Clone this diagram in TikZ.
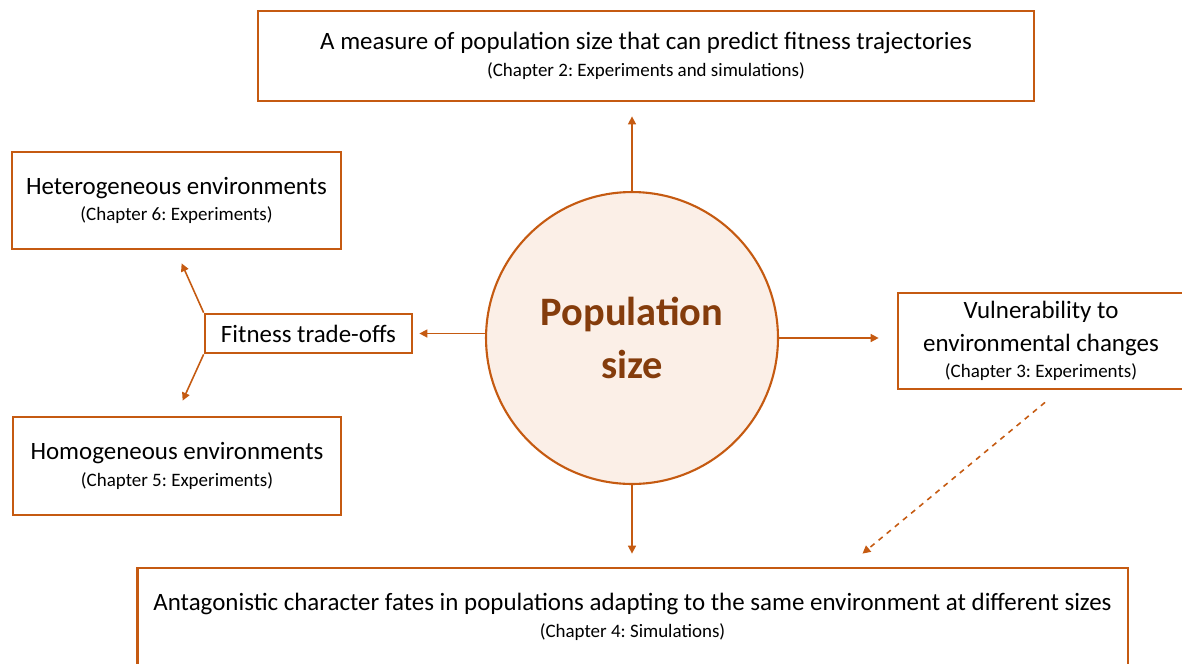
\documentclass[tikz,border=0pt]{standalone}
\usepackage{fontspec}
\setmainfont{Carlito}
\usetikzlibrary{arrows.meta,positioning,calc}
\definecolor{rustorange}{RGB}{197,90,17}
\definecolor{deepbrown}{RGB}{132,60,12}
\definecolor{paleapricot}{RGB}{251,239,231}

% smaller second line naming the chapter
\newcommand{\chapline}[1]{{\fontsize{10.8}{12}\selectfont #1}}

\begin{document}
\frenchspacing
\begin{tikzpicture}[x=0.02cm,y=-0.02cm,
    box/.style={draw=rustorange,line width=1.6pt,fill=white,align=center,inner sep=0pt,
      font=\fontsize{14.2}{18.5}\selectfont},
    link/.style={draw=rustorange,line width=0.9pt,-{Triangle[length=4.5pt,width=4.5pt]}}]
    \useasboundingbox (0,0) rectangle (1182,663);
    \clip (0,0) rectangle (1182,663);

    \node[circle,draw=rustorange,line width=1.2pt,fill=paleapricot,minimum size=5.84cm,
      text=deepbrown,align=center,font=\bfseries\fontsize{23}{30}\selectfont] (size) at (632,338) {Population\\size};

    \node[box,minimum width=15.52cm,minimum height=1.8cm] (chtwo) at (646,56)
      {A measure of population size that can predict fitness trajectories\\[-3.5pt]\chapline{(Chapter 2: Experiments and simulations)}};
    \node[box,minimum width=6.58cm,minimum height=1.94cm] (chsix) at (176.5,200.5)
      {Heterogeneous environments\\[-3.5pt]\chapline{(Chapter 6: Experiments)}};
    \node[box,minimum width=6.56cm,minimum height=1.96cm] (chfive) at (177,466)
      {Homogeneous environments\\[-3.5pt]\chapline{(Chapter 5: Experiments)}};
    \node[box,minimum width=4.14cm,minimum height=0.78cm] (trade) at (308.5,333.5) {Fitness trade-offs};
    \node[box,minimum width=5.72cm,minimum height=1.92cm] (chthree) at (1041,341)
      {Vulnerability to\\environmental changes\\[-3.5pt]\chapline{(Chapter 3: Experiments)}};
    \node[box,minimum width=19.82cm,minimum height=1.96cm] (chfour) at (632.5,617)
      {Antagonistic character fates in populations adapting to the same environment at different sizes\\[-3.5pt]\chapline{(Chapter 4: Simulations)}};

    \draw[link] (size.north) -- ($(size.north |- chtwo.south)+(0,14)$);
    \draw[link] (size.south) -- ($(size.south |- chfour.north)+(0,-13)$);
    \draw[link] (size.east) -- ($(size.east -| chthree.west)+(-18,0)$);
    \draw[link] (size.west |- trade.east) -- ($(trade.east)+(6,0)$);
    \draw[link] (trade.north west) -- ($(chsix.south west)+(171,13)$);
    \draw[link] (trade.south west) -- ($(chfive.north west)+(171,-15)$);
    \draw[link,dashed] ($(chthree.south)+(4,12)$) -- ($(chfour.north)+(230,-13)$);
\end{tikzpicture}
\end{document}
